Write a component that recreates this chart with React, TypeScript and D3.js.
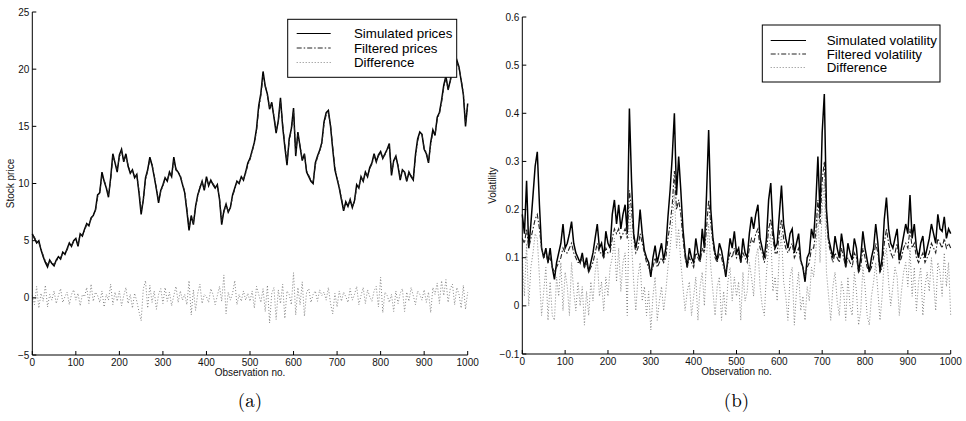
import React from "react";
import * as d3 from "d3";

// ---------- DATA (observation step = 5, obs 0..1000) ----------
const observations: number[] = d3.range(0, 1001, 5);

const simulatedPrices = [
  5.6, 5.2, 4.8, 5.0, 4.2, 3.6, 3.1, 2.7, 3.3, 3.0, 2.8, 3.3, 3.6, 3.4, 4.0, 3.8, 4.3, 4.8, 4.5, 5.0,
  5.2, 4.5, 5.6, 5.4, 6.0, 6.5, 6.3, 7.0, 7.2, 7.7, 9.0, 9.2, 11.0, 10.2, 9.6, 8.8, 10.5, 12.6, 11.8, 11.0,
  12.5, 13.0, 11.9, 12.6, 11.5, 10.9, 11.2, 10.5, 10.8, 9.2, 7.3, 8.6, 10.5, 11.2, 12.3, 11.6, 10.6, 9.5, 8.3, 9.4,
  9.9, 10.5, 10.2, 11.0, 10.6, 12.3, 11.2, 11.0, 10.6, 9.9, 9.2, 7.6, 5.9, 7.2, 6.4, 8.0, 9.0, 9.6, 10.2, 9.4,
  10.6, 9.8, 10.3, 9.9, 9.6, 9.9, 8.6, 6.4, 7.6, 8.2, 7.5, 7.9, 9.0, 9.6, 10.2, 10.0, 10.6, 10.3, 11.0, 11.8,
  12.2, 12.9, 13.6, 14.8, 16.8, 17.9, 19.8, 18.5, 17.8, 16.5, 17.1, 15.8, 14.4, 15.5, 17.5, 15.0, 13.2, 11.6, 13.9, 14.8,
  16.6, 12.4, 14.5, 13.2, 12.0, 12.6, 11.0, 10.6, 10.2, 10.0, 11.8, 12.4, 12.9, 13.6, 15.4, 16.2, 16.4, 15.0, 13.0, 11.2,
  10.4, 9.6, 8.6, 7.6, 8.4, 8.0, 8.6, 7.9, 8.5, 9.9, 9.6, 10.6, 10.2, 11.0, 10.6, 11.4, 11.8, 12.6, 11.9, 12.5,
  12.8, 12.2, 12.6, 13.0, 13.5, 10.7, 12.0, 12.4, 11.5, 10.3, 11.2, 11.0, 10.2, 11.0, 10.6, 10.3, 12.5, 13.9, 14.5, 14.3,
  13.0, 12.6, 11.8, 13.6, 14.7, 14.2, 15.8, 16.2, 17.3, 18.6, 19.4, 18.2, 19.0, 20.2, 20.5, 20.8, 20.2, 19.0, 17.8, 15.0,
  17.0,
];

const filteredPrices = [
  5.5, 5.3, 4.9, 4.8, 4.3, 3.7, 3.2, 2.9, 3.2, 3.1, 2.9, 3.2, 3.5, 3.5, 3.9, 3.9, 4.2, 4.7, 4.6, 4.9,
  5.1, 4.7, 5.5, 5.5, 5.9, 6.4, 6.4, 6.9, 7.3, 7.6, 8.8, 9.3, 10.7, 10.3, 9.7, 9.0, 10.3, 12.3, 11.9, 11.2,
  12.3, 12.8, 12.0, 12.4, 11.6, 11.0, 11.1, 10.6, 10.7, 9.4, 7.6, 8.5, 10.3, 11.1, 12.1, 11.7, 10.7, 9.6, 8.5, 9.3,
  9.8, 10.4, 10.3, 10.9, 10.7, 12.0, 11.3, 11.0, 10.7, 10.0, 9.3, 7.8, 6.2, 7.0, 6.6, 7.9, 8.9, 9.7, 10.1, 9.5,
  10.4, 9.9, 10.2, 10.0, 9.7, 9.8, 8.7, 6.7, 7.5, 8.1, 7.6, 7.9, 8.9, 9.5, 10.1, 10.1, 10.5, 10.4, 10.9, 11.6,
  12.1, 12.8, 13.5, 14.6, 16.5, 17.7, 19.4, 18.6, 17.7, 16.7, 16.9, 15.9, 14.6, 15.4, 17.2, 15.2, 13.4, 11.9, 13.7, 14.7,
  16.3, 12.7, 14.3, 13.3, 12.1, 12.5, 11.1, 10.7, 10.3, 10.1, 11.6, 12.3, 12.8, 13.5, 15.2, 16.0, 16.2, 15.1, 13.2, 11.4,
  10.5, 9.7, 8.7, 7.8, 8.3, 8.1, 8.5, 8.0, 8.4, 9.7, 9.7, 10.5, 10.3, 10.9, 10.7, 11.3, 11.7, 12.4, 12.0, 12.4,
  12.7, 12.3, 12.5, 12.9, 13.3, 11.0, 11.9, 12.3, 11.6, 10.5, 11.1, 11.0, 10.3, 10.9, 10.7, 10.4, 12.3, 13.7, 14.4, 14.3,
  13.1, 12.7, 11.9, 13.4, 14.5, 14.3, 15.6, 16.1, 17.1, 18.4, 19.2, 18.3, 18.9, 20.0, 20.4, 20.6, 20.1, 19.1, 17.9, 15.3,
  16.8,
];

const priceDifference = [
  0.2, -0.6, 1.0, -0.9, 0.4, -0.3, 1.1, -0.8, 0.3, -0.2, 0.6, -0.5, 0.2, 0.8, -0.4, 0.1, 0.5, -0.6, 0.3, 0.7,
  -0.2, 0.4, -0.7, 0.3, 0.1, 0.9, -0.5, 1.2, -0.3, 0.5, 0.2, -0.4, 0.6, -0.8, 0.3, -0.2, 1.2, -0.6, 0.5, -0.3,
  0.6, -0.7, 0.2, 0.9, -0.5, 0.3, -0.9, 0.4, -0.3, -1.2, -2.0, 0.8, 1.5, -0.9, 1.1, -0.4, 0.6, -1.0, 0.3, 0.8,
  -0.5, 0.9, -0.3, 0.5, -0.7, 0.2, 1.0, -0.4, 0.6, -0.2, 0.3, -0.6, 1.5, -1.5, 0.7, -1.1, 0.4, 1.2, -0.5, 0.3,
  0.1, -0.4, 0.8, 0.3, -0.6, 0.2, 1.0, -0.3, 2.0, -1.4, 0.5, -0.2, 0.4, 1.5, -0.6, 0.3, -0.3, 0.6, -0.2, 0.4,
  -0.3, 0.6, -0.9, 1.0, 0.3, -0.4, 0.8, -1.2, 1.1, -2.2, 0.4, 0.9, -1.9, 0.7, -0.5, 1.2, -1.8, 0.6, 0.3, -0.6,
  2.2, -1.5, 0.9, -0.6, 1.4, -1.6, 0.5, 0.8, -0.4, 0.3, 0.6, -0.3, 0.7, 0.2, 0.5, -0.2, 0.9, -0.5, -1.4, 0.4,
  -0.8, 0.6, -0.3, 0.5, 0.1, -0.4, 0.8, -0.2, 0.3, 1.0, -0.6, 0.2, 0.9, -0.5, 0.7, 0.1, -0.3, 0.6, 1.0, -0.8,
  1.8, -1.3, 0.5, 0.2, -0.4, 0.3, -1.2, 0.6, -0.5, 0.4, 0.8, -1.2, 0.5, -0.3, 0.9, 0.2, -0.6, 0.6, 0.3, -0.2,
  0.7, -0.4, 0.5, -1.3, 0.9, 0.3, 1.3, -0.5, 1.5, 0.2, 1.6, -0.4, 0.8, 1.2, -0.6, 0.9, 0.3, -0.9, 1.1, -1.0,
  0.5,
];

const simulatedVolatility = [
  0.19, 0.15, 0.26, 0.12, 0.17, 0.23, 0.29, 0.32, 0.21, 0.12, 0.10, 0.12, 0.09, 0.12, 0.08, 0.055, 0.09, 0.11, 0.13, 0.17,
  0.12, 0.13, 0.15, 0.175, 0.13, 0.11, 0.10, 0.09, 0.11, 0.08, 0.10, 0.07, 0.09, 0.11, 0.14, 0.17, 0.12, 0.13, 0.10, 0.155,
  0.13, 0.12, 0.19, 0.22, 0.17, 0.21, 0.16, 0.19, 0.21, 0.15, 0.41, 0.26, 0.15, 0.12, 0.145, 0.20, 0.15, 0.115, 0.10, 0.09,
  0.06, 0.10, 0.125, 0.09, 0.11, 0.13, 0.095, 0.12, 0.185, 0.24, 0.31, 0.40, 0.23, 0.31, 0.24, 0.16, 0.11, 0.08, 0.12, 0.10,
  0.09, 0.14, 0.11, 0.095, 0.16, 0.12, 0.23, 0.365, 0.20, 0.14, 0.11, 0.095, 0.13, 0.115, 0.09, 0.06, 0.10, 0.14, 0.12, 0.155,
  0.11, 0.12, 0.09, 0.14, 0.11, 0.10, 0.15, 0.185, 0.16, 0.19, 0.21, 0.14, 0.12, 0.10, 0.14, 0.22, 0.255, 0.16, 0.12, 0.13,
  0.19, 0.25, 0.17, 0.14, 0.12, 0.15, 0.16, 0.11, 0.13, 0.15, 0.095, 0.08, 0.05, 0.10, 0.11, 0.16, 0.14, 0.21, 0.31, 0.19,
  0.36, 0.44, 0.20, 0.14, 0.12, 0.10, 0.145, 0.12, 0.10, 0.15, 0.12, 0.08, 0.13, 0.11, 0.095, 0.14, 0.12, 0.07, 0.10, 0.155,
  0.12, 0.095, 0.07, 0.10, 0.12, 0.17, 0.13, 0.07, 0.10, 0.18, 0.225, 0.16, 0.13, 0.12, 0.14, 0.16, 0.095, 0.12, 0.145, 0.17,
  0.15, 0.23, 0.14, 0.17, 0.12, 0.10, 0.13, 0.145, 0.10, 0.12, 0.14, 0.17, 0.15, 0.13, 0.19, 0.16, 0.155, 0.185, 0.14, 0.16,
  0.15,
];

const filteredVolatility = [
  0.14, 0.13, 0.16, 0.12, 0.14, 0.16, 0.18, 0.19, 0.16, 0.12, 0.10, 0.11, 0.09, 0.10, 0.08, 0.07, 0.08, 0.09, 0.10, 0.12,
  0.11, 0.11, 0.12, 0.13, 0.11, 0.10, 0.09, 0.09, 0.10, 0.08, 0.09, 0.07, 0.08, 0.09, 0.11, 0.13, 0.11, 0.11, 0.10, 0.12,
  0.11, 0.11, 0.14, 0.16, 0.15, 0.16, 0.14, 0.15, 0.16, 0.14, 0.24, 0.20, 0.14, 0.11, 0.12, 0.15, 0.13, 0.11, 0.09, 0.08,
  0.07, 0.08, 0.10, 0.08, 0.09, 0.10, 0.09, 0.10, 0.14, 0.17, 0.21, 0.28, 0.20, 0.22, 0.19, 0.14, 0.10, 0.08, 0.10, 0.09,
  0.08, 0.11, 0.10, 0.09, 0.12, 0.11, 0.16, 0.22, 0.17, 0.13, 0.10, 0.09, 0.11, 0.10, 0.08, 0.07, 0.09, 0.11, 0.10, 0.12,
  0.10, 0.11, 0.09, 0.11, 0.10, 0.09, 0.12, 0.14, 0.13, 0.15, 0.16, 0.12, 0.11, 0.09, 0.11, 0.16, 0.18, 0.14, 0.11, 0.11,
  0.15, 0.18, 0.14, 0.12, 0.11, 0.12, 0.13, 0.10, 0.11, 0.12, 0.09, 0.08, 0.06, 0.08, 0.09, 0.12, 0.12, 0.15, 0.22, 0.17,
  0.26, 0.30, 0.18, 0.13, 0.11, 0.09, 0.11, 0.10, 0.09, 0.12, 0.10, 0.08, 0.10, 0.09, 0.08, 0.11, 0.10, 0.07, 0.08, 0.12,
  0.10, 0.08, 0.07, 0.08, 0.10, 0.13, 0.11, 0.07, 0.08, 0.13, 0.16, 0.13, 0.11, 0.10, 0.11, 0.13, 0.09, 0.10, 0.12, 0.13,
  0.12, 0.16, 0.12, 0.13, 0.10, 0.09, 0.10, 0.11, 0.09, 0.10, 0.11, 0.13, 0.12, 0.11, 0.14, 0.13, 0.12, 0.14, 0.12, 0.13,
  0.12,
];

const volatilityDifference = [
  0.10, 0.02, 0.13, 0.00, 0.08, 0.11, 0.15, 0.14, 0.06, -0.02, 0.03, 0.08, -0.03, 0.05, -0.02, -0.03, 0.06, 0.02, 0.09, -0.01,
  0.07, 0.04, -0.02, 0.09, 0.03, -0.01, 0.05, 0.00, 0.04, -0.04, 0.03, -0.02, 0.05, 0.01, 0.07, 0.10, 0.02, 0.05, -0.01, 0.06,
  0.02, 0.08, 0.10, 0.14, 0.05, 0.12, 0.03, 0.09, 0.11, -0.02, 0.22, 0.13, 0.05, -0.01, 0.06, 0.09, 0.01, 0.04, -0.02, 0.03,
  -0.05, 0.02, 0.06, -0.03, 0.01, 0.04, -0.01, 0.03, 0.08, 0.12, 0.17, 0.24, 0.12, 0.16, 0.09, 0.04, -0.01, 0.03, 0.05, -0.02,
  0.02, 0.06, -0.03, 0.04, 0.07, 0.00, 0.10, 0.17, 0.08, 0.03, -0.02, 0.04, 0.06, -0.03, 0.03, -0.02, 0.05, 0.08, 0.01, 0.06,
  0.02, 0.05, -0.03, 0.07, 0.01, 0.03, 0.09, 0.06, 0.02, 0.10, 0.12, 0.04, 0.00, -0.02, 0.07, 0.12, 0.15, 0.03, 0.06, 0.01,
  0.11, 0.15, 0.05, 0.02, -0.03, 0.06, 0.08, -0.04, 0.03, 0.07, -0.01, 0.02, -0.03, 0.04, 0.01, 0.08, 0.06, 0.11, 0.19, 0.09,
  0.20, 0.26, 0.07, 0.02, -0.03, 0.04, 0.07, 0.01, -0.02, 0.05, 0.03, -0.03, 0.06, 0.00, -0.02, 0.07, 0.03, -0.04, -0.01, 0.08,
  0.04, -0.02, -0.04, 0.02, 0.05, 0.09, 0.03, -0.03, 0.02, 0.10, 0.12, 0.05, 0.00, 0.04, 0.08, 0.06, -0.02, 0.03, 0.07, 0.09,
  0.04, 0.12, 0.02, 0.08, -0.01, 0.05, 0.08, -0.02, 0.04, 0.07, 0.03, 0.10, 0.05, -0.01, 0.09, 0.07, 0.02, 0.11, 0.04, 0.09,
  -0.02,
];

const xTicks = [0, 100, 200, 300, 400, 500, 600, 700, 800, 900, 1000];
const priceTicks = [-5, 0, 5, 10, 15, 20, 25];
const volTicks = [-0.1, 0, 0.1, 0.2, 0.3, 0.4, 0.5, 0.6];
const priceLegend = ["Simulated prices", "Filtered prices", "Difference"];
const volLegend = ["Simulated volatility", "Filtered volatility", "Difference"];

// ---------- STYLES ----------
const SANS = '"Liberation Sans", Arial, Helvetica, sans-serif';
const SERIF = '"Latin Modern Roman", "DejaVu Serif", "Liberation Serif", serif';
const lineStyles = [
  { stroke: "#000", width: 1.5, dash: "" },
  { stroke: "#222", width: 1.1, dash: "5,2,1.5,2" },
  { stroke: "#777", width: 0.9, dash: "1,2" },
];
const legendStyles = [
  { stroke: "#000", width: 1, dash: "" },
  { stroke: "#222", width: 1, dash: "5,2,1.5,2" },
  { stroke: "#777", width: 0.9, dash: "1,2" },
];

type PanelProps = {
  left: number;
  right: number;
  top: number;
  bottom: number;
  yDomain: [number, number];
  yTicks: number[];
  yFmt: (v: number) => string;
  series: number[][];
  legendLabels: string[];
  legendBox: { x: number; y: number; w: number; h: number };
  legendRows: number[];
  legendLine: [number, number];
  legendTextX: number;
  yLabel: string;
  yLabelX: number;
  caption: string;
};

function Panel(p: PanelProps) {
  const x = d3.scaleLinear().domain([0, 1000]).range([p.left, p.right]);
  const y = d3.scaleLinear().domain(p.yDomain).range([p.bottom, p.top]);
  const line = d3
    .line<number>()
    .x((_, i) => x(observations[i]))
    .y((d) => y(d));
  const cx = (p.left + p.right) / 2;
  const cy = (p.top + p.bottom) / 2;
  return (
    <g>
      {p.series.map((s, i) => (
        <path
          key={i}
          d={line(s) || ""}
          fill="none"
          stroke={lineStyles[i].stroke}
          strokeWidth={lineStyles[i].width}
          strokeDasharray={lineStyles[i].dash || undefined}
          strokeLinejoin="miter"
        />
      ))}
      {/* axes */}
      <line x1={p.left} x2={p.left} y1={p.top} y2={p.bottom} stroke="#000" strokeWidth={1} />
      <line x1={p.left} x2={p.right} y1={p.bottom} y2={p.bottom} stroke="#000" strokeWidth={1} />
      {xTicks.map((t) => (
        <g key={"x" + t}>
          <line x1={x(t)} x2={x(t)} y1={p.bottom} y2={p.bottom - 4} stroke="#000" />
          <text x={x(t)} y={p.bottom + 11} fontSize={10} fontFamily={SANS} textAnchor="middle" fill="#111">
            {t}
          </text>
        </g>
      ))}
      {p.yTicks.map((t) => (
        <g key={"y" + t}>
          <line x1={p.left} x2={p.left + 4} y1={y(t)} y2={y(t)} stroke="#000" />
          <text x={p.left - 3} y={y(t) + 3.5} fontSize={10} fontFamily={SANS} textAnchor="end" fill="#111">
            {p.yFmt(t)}
          </text>
        </g>
      ))}
      <text x={cx} y={p.bottom + 21} fontSize={10} fontFamily={SANS} textAnchor="middle" fill="#111">
        Observation no.
      </text>
      <text
        transform={`translate(${p.yLabelX},${cy}) rotate(-90)`}
        fontSize={10}
        fontFamily={SANS}
        textAnchor="middle"
        fill="#111"
      >
        {p.yLabel}
      </text>
      {/* legend */}
      <rect
        x={p.legendBox.x}
        y={p.legendBox.y}
        width={p.legendBox.w}
        height={p.legendBox.h}
        fill="#fff"
        stroke="#000"
        strokeWidth={1}
      />
      {p.legendLabels.map((lab, i) => (
        <g key={lab + i}>
          <line
            x1={p.legendLine[0]}
            x2={p.legendLine[1]}
            y1={p.legendRows[i]}
            y2={p.legendRows[i]}
            stroke={legendStyles[i].stroke}
            strokeWidth={legendStyles[i].width}
            strokeDasharray={legendStyles[i].dash || undefined}
          />
          <text x={p.legendTextX} y={p.legendRows[i] + 4.5} fontSize={13.3} fontFamily={SANS} fill="#000">
            {lab}
          </text>
        </g>
      ))}
      <text x={cx} y={407} fontSize={19} fontFamily={SERIF} textAnchor="middle" fill="#000">
        {p.caption}
      </text>
    </g>
  );
}

const minus = (s: string) => s.replace("-", "\u2212");

export default function App() {
  return (
    <svg
      width={966}
      height={421}
      viewBox="0 0 966 421"
      style={{ position: "absolute", left: 0, top: 0, background: "#fff" }}
    >
      <rect x={0} y={0} width={966} height={421} fill="#fff" />
      <Panel
        left={32.3}
        right={467.7}
        top={12}
        bottom={355}
        yDomain={[-5, 25]}
        yTicks={priceTicks}
        yFmt={(v) => minus(String(v))}
        series={[simulatedPrices, filteredPrices, priceDifference]}
        legendLabels={priceLegend}
        legendBox={{ x: 287.7, y: 19.3, w: 169, h: 58 }}
        legendRows={[33.5, 48, 62.5]}
        legendLine={[296.7, 330.7]}
        legendTextX={354}
        yLabel="Stock price"
        yLabelX={14}
        caption="(a)"
      />
      <Panel
        left={522.3}
        right={950.7}
        top={17}
        bottom={354}
        yDomain={[-0.1, 0.6]}
        yTicks={volTicks}
        yFmt={(v) => (Math.abs(v) < 1e-9 ? "0" : minus(d3.format(".1f")(v)))}
        series={[simulatedVolatility, filteredVolatility, volatilityDifference]}
        legendLabels={volLegend}
        legendBox={{ x: 762.3, y: 25, w: 177.7, h: 57 }}
        legendRows={[40.5, 54, 67.5]}
        legendLine={[770.7, 806]}
        legendTextX={826.7}
        yLabel="Volatility"
        yLabelX={496}
        caption="(b)"
      />
    </svg>
  );
}
